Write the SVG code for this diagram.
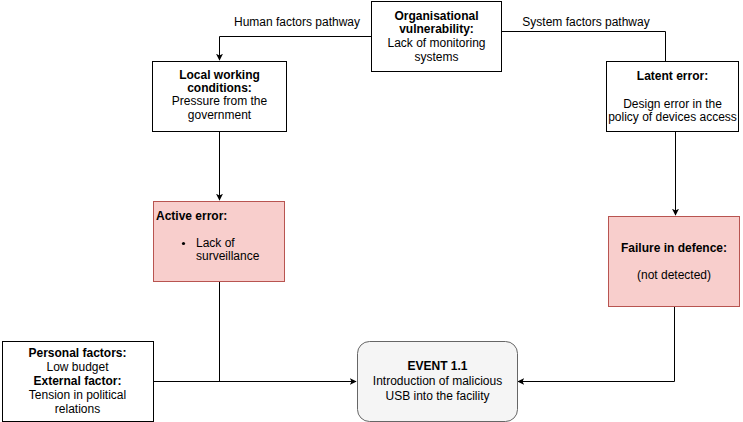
<svg xmlns="http://www.w3.org/2000/svg" width="743" height="422" viewBox="0 0 743 422">
<defs>
<marker id="arr" viewBox="0 0 10 10" refX="9" refY="5" markerWidth="7" markerHeight="7" markerUnits="userSpaceOnUse" orient="auto">
<path d="M0,0 L10,5 L0,10 L2.5,5 Z" fill="#000"/>
</marker>
<style>
text{font-family:"Liberation Sans",Arial,sans-serif;font-size:12px;fill:#000}
.b{font-weight:bold}
.m{text-anchor:middle}
.box{fill:#fff;stroke:#000;stroke-width:1}
.red{fill:#f8cecc;stroke:#b85450;stroke-width:1}
.ev{fill:#f5f5f5;stroke:#666;stroke-width:1}
.c{fill:none;stroke:#000;stroke-width:1}
</style>
</defs>
<rect width="743" height="422" fill="#fff"/>
<g id="connectors">
<path class="c" d="M371.5,36.5 H219.5 V60" marker-end="url(#arr)"/>
<path class="c" d="M501.5,31.5 H665.5 V61"/>
<path class="c" d="M219.5,131 V200" marker-end="url(#arr)"/>
<path class="c" d="M675.5,131 V215" marker-end="url(#arr)"/>
<path class="c" d="M219.5,281 V381.5"/>
<path class="c" d="M153,381.5 H356" marker-end="url(#arr)"/>
<path class="c" d="M674.5,306 V381.5 H518" marker-end="url(#arr)"/>
<text class="m" x="297" y="26">Human factors pathway</text>
<text class="m" x="586" y="26">System factors pathway</text>
</g>
<g id="org">
<rect class="box" x="371.5" y="1.5" width="130" height="70"/>
<text class="m b" x="436.5" y="20">Organisational</text>
<text class="m b" x="436.5" y="33">vulnerability:</text>
<text class="m" x="436.5" y="47">Lack of monitoring</text>
<text class="m" x="436.5" y="61">systems</text>
</g>
<g id="local">
<rect class="box" x="152.5" y="61.5" width="134" height="70"/>
<text class="m b" x="219.5" y="79">Local working</text>
<text class="m b" x="219.5" y="92">conditions:</text>
<text class="m" x="219.5" y="105">Pressure from the</text>
<text class="m" x="219.5" y="119">government</text>
</g>
<g id="latent">
<rect class="box" x="606.5" y="61.5" width="132" height="70"/>
<text class="m b" x="672.5" y="80">Latent error:</text>
<text class="m" x="672.5" y="108">Design error in the</text>
<text class="m" x="672.5" y="121">policy of devices access</text>
</g>
<g id="active">
<rect class="red" x="153.5" y="201.5" width="131" height="80"/>
<text class="b" x="156" y="220">Active error:</text>
<circle cx="183.5" cy="243.5" r="1.6" fill="#000"/>
<text x="196" y="247">Lack of</text>
<text x="196" y="260">surveillance</text>
</g>
<g id="failure">
<rect class="red" x="608.5" y="216.5" width="131" height="90"/>
<text class="m b" x="674" y="251.5">Failure in defence:</text>
<text class="m" x="674" y="279">(not detected)</text>
</g>
<g id="personal">
<rect class="box" x="2.5" y="341.5" width="151" height="80"/>
<text class="m b" x="77.5" y="357">Personal factors:</text>
<text class="m" x="77.5" y="371">Low budget</text>
<text class="m b" x="77.5" y="385">External factor:</text>
<text class="m" x="77.5" y="399">Tension in political</text>
<text class="m" x="77.5" y="413">relations</text>
</g>
<g id="event">
<rect class="ev" x="357.5" y="341.5" width="160" height="80" rx="12" ry="12"/>
<text class="m b" x="437.5" y="370">EVENT 1.1</text>
<text class="m" x="437.5" y="385">Introduction of malicious</text>
<text class="m" x="437.5" y="400">USB into the facility</text>
</g>
</svg>
